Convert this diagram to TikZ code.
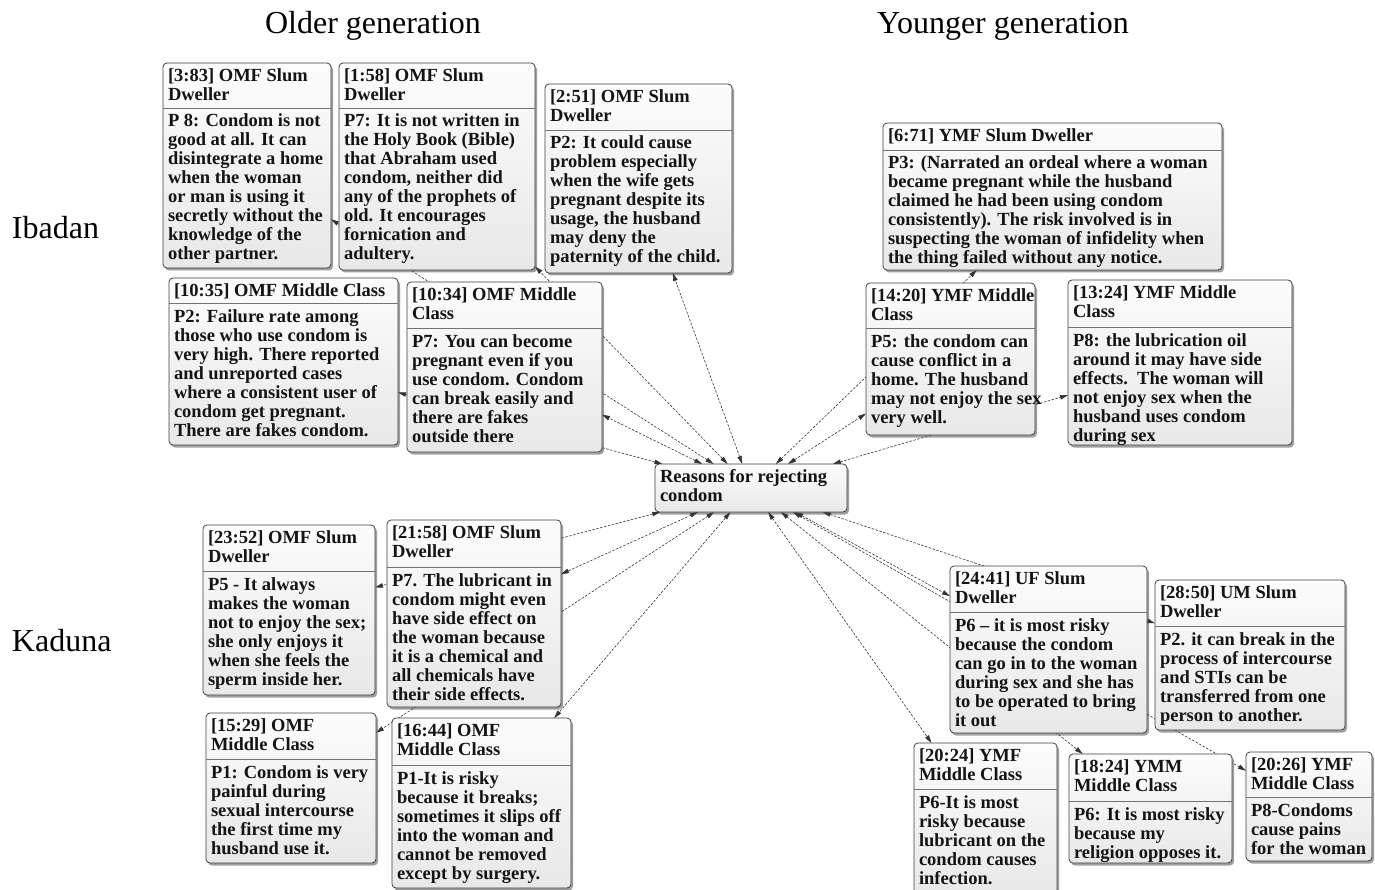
\documentclass[tikz,border=0pt]{standalone}
\usepackage{fontspec}
\setmainfont{Liberation Serif}
\usetikzlibrary{arrows.meta,shadows,backgrounds}

\tikzset{
  qbox/.style={draw=black!75, line width=0.8pt, rounded corners=4pt,
    top color=black!1, bottom color=black!9, inner sep=0pt, outer sep=0pt,
    drop shadow={shadow xshift=2pt, shadow yshift=-2.5pt, opacity=0.5, fill=black!75}},
  qtext/.style={anchor=north west, inner sep=0pt, outer sep=0pt, align=left,
    font=\bfseries\fontsize{18.5}{19}\selectfont, text=black!92},
  qrule/.style={draw=black!55, line width=0.8pt},
  link/.style={draw=black!80, line width=0.6pt, dash pattern=on 2.5pt off 1.5pt,
    {Triangle[length=8pt,width=4.5pt]}-{Triangle[length=8pt,width=4.5pt]}},
  title/.style={font=\fontsize{32}{36}\selectfont, inner sep=0pt, outer sep=0pt}
}

% \quotebox{name}{left}{top}{right}{bottom}{rule}{heading}{quotation}
\newcommand\quotebox[8]{%
  \node[qbox, minimum width={(#4-#2)*1pt}, minimum height={(#5-#3)*1pt}]
    (#1) at ({(#2+#4)/2},{(#3+#5)/2}) {};
  \node[qtext] (#1-head) at ({#2+5},{#3+4}) {\rule{0pt}{14.5pt}#7};
  \draw[qrule] (#2,#6) -- (#4,#6);
  \node[qtext] (#1-body) at ({#2+5},{#6+4.5}) {\rule{0pt}{14.5pt}#8};
}

\begin{document}
\begin{tikzpicture}[x=1pt,y=-1pt]
\useasboundingbox (0,0) rectangle (1375,890);

% column and row titles
\node[title] (older) at (373,26) {Older generation};
\node[title] (younger) at (1003,26) {Younger generation};
\node[title, anchor=west] (ibadan) at (12,228) {Ibadan};
\node[title, anchor=west] (kaduna) at (12,641) {Kaduna};

% quotations, Ibadan
\quotebox{q383}{163}{63}{331}{268}{108}{[3:83] OMF Slum\\Dweller}
  {P 8: Condom is not\\good at all. It can\\disintegrate a home\\when the woman\\or man is using it\\secretly without the\\knowledge of the\\other partner.}
\quotebox{q158}{339}{63}{535}{270}{108}{[1:58] OMF Slum\\Dweller}
  {P7: It is not written in\\the Holy Book (Bible)\\that Abraham used\\condom, neither did\\any of the prophets of\\old. It encourages\\fornication and\\adultery.}
\quotebox{q251}{545}{84}{732}{273}{130}{[2:51] OMF Slum\\Dweller}
  {P2: It could cause\\problem especially\\when the wife gets\\pregnant despite its\\usage, the husband\\may deny the\\paternity of the child.}
\quotebox{q671}{883}{123}{1222}{270}{150}{[6:71] YMF Slum Dweller}
  {P3: (Narrated an ordeal where a woman\\became pregnant while the husband\\claimed he had been using condom\\consistently). The risk involved is in\\suspecting the woman of infidelity when\\the thing failed without any notice.}
\quotebox{q1035}{169}{278}{398}{445}{303}{[10:35] OMF Middle Class}
  {P2: Failure rate among\\those who use condom is\\very high. There reported\\and unreported cases\\where a consistent user of\\condom get pregnant.\\There are fakes condom.}
\quotebox{q1034}{407}{282}{602}{452}{328}{[10:34] OMF Middle\\Class}
  {P7: You can become\\pregnant even if you\\use condom. Condom\\can break easily and\\there are fakes\\outside there}
\quotebox{q1420}{866}{283}{1035}{435}{328}{[14:20] YMF Middle\\Class}
  {P5: the condom can\\cause conflict in a\\home. The husband\\may not enjoy the sex\\very well.}
\quotebox{q1324}{1068}{280}{1292}{445}{327}{[13:24] YMF Middle\\Class}
  {P8: the lubrication oil\\around it may have side\\effects.\ \ The woman will\\not enjoy sex when the\\husband uses condom\\during sex}

% the code in the middle
\node[qbox, minimum width=192pt, minimum height=48pt] (code) at (751,488) {};
\node[qtext] (code-text) at (660,467.5) {\rule{0pt}{14.5pt}Reasons for rejecting\\condom};

% quotations, Kaduna
\quotebox{q2352}{203}{525}{375}{695}{571}{[23:52] OMF Slum\\Dweller}
  {P5 - It always\\makes the woman\\not to enjoy the sex;\\she only enjoys it\\when she feels the\\sperm inside her.}
\quotebox{q2158}{387}{520}{561}{707}{567}{[21:58] OMF Slum\\Dweller}
  {P7. The lubricant in\\condom might even\\have side effect on\\the woman because\\it is a chemical and\\all chemicals have\\their side effects.}
\quotebox{q1529}{206}{713}{376}{863}{759}{[15:29] OMF\\Middle Class}
  {P1: Condom is very\\painful during\\sexual intercourse\\the first time my\\husband use it.}
\quotebox{q1644}{392}{718}{571}{888}{765}{[16:44] OMF\\Middle Class}
  {P1-It is risky\\because it breaks;\\sometimes it slips off\\into the woman and\\cannot be removed\\except by surgery.}
\quotebox{q2441}{950}{566}{1147}{733}{612}{[24:41] UF Slum\\Dweller}
  {P6 – it is most risky\\because the condom\\can go in to the woman\\during sex and she has\\to be operated to bring\\it out}
\quotebox{q2850}{1155}{580}{1345}{730}{626}{[28:50] UM Slum\\Dweller}
  {P2. it can break in the\\process of intercourse\\and STIs can be\\transferred from one\\person to another.}
\quotebox{q2024}{914}{743}{1057}{896}{789}{[20:24] YMF\\Middle Class}
  {P6-It is most\\risky because\\lubricant on the\\condom causes\\infection.}
\quotebox{q1824}{1069}{754}{1232}{863}{801}{[18:24] YMM\\Middle Class}
  {P6: It is most risky\\because my\\religion opposes it.}
\quotebox{q2026}{1246}{752}{1372}{861}{797}{[20:26] YMF\\Middle Class}
  {P8-Condoms\\cause pains\\for the woman}

% links from the code to every quotation, behind the boxes
\begin{pgfonlayer}{background}
  \foreach \q in {q383,q158,q251,q671,q1035,q1034,q1420,q1324,
                  q2352,q2158,q1529,q1644,q2441,q2850,q2024,q1824,q2026}
    \draw[link] (code) -- (\q);
\end{pgfonlayer}
\end{tikzpicture}
\end{document}
